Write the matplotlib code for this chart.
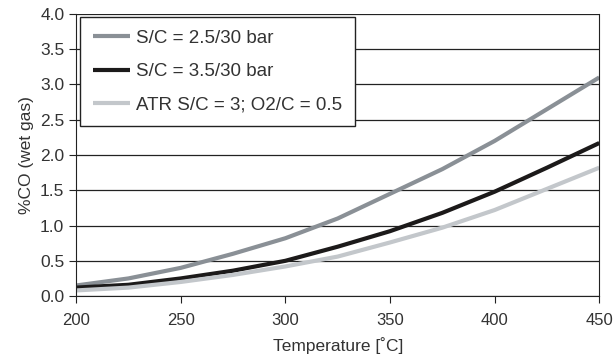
import numpy as np
import matplotlib.pyplot as plt

plt.rcParams['font.family'] = ['Liberation Sans', 'DejaVu Sans']

# temperature axis and %CO readings for each case
temp = [200, 225, 250, 275, 300, 325, 350, 375, 400, 425, 450]
sc25 = [0.15, 0.25, 0.40, 0.60, 0.82, 1.10, 1.45, 1.80, 2.20, 2.65, 3.10]
sc35 = [0.12, 0.16, 0.25, 0.36, 0.50, 0.70, 0.92, 1.18, 1.48, 1.82, 2.17]
atr = [0.08, 0.12, 0.20, 0.30, 0.42, 0.56, 0.76, 0.97, 1.22, 1.52, 1.82]
labels = ['S/C = 2.5/30 bar', 'S/C = 3.5/30 bar', 'ATR S/C = 3; O2/C = 0.5']
colors = ['#8a9096', '#1c1a1a', '#c3c7cb']

fig = plt.figure(figsize=(6.14, 3.58), dpi=100)
ax = fig.add_axes([0.124, 0.173, 0.852, 0.788])

for y, lab, c in zip([sc25, sc35, atr], labels, colors):
    ax.plot(temp, y, color=c, lw=3.0, label=lab, solid_capstyle='butt')

ax.set_xlim(200, 450)
ax.set_ylim(0, 4.0)
ax.set_xticks([200, 250, 300, 350, 400, 450])
ax.set_yticks(np.arange(0, 4.01, 0.5))
ax.set_yticklabels(['%.1f' % v for v in np.arange(0, 4.01, 0.5)])
ax.yaxis.grid(True, color='#222222', lw=0.9)
ax.set_axisbelow(True)
for s in ['left', 'bottom', 'right']:
    ax.spines[s].set_color('#222222')
ax.spines['top'].set_visible(False)
ax.tick_params(axis='both', direction='out', length=5, color='#222222',
               labelsize=12.5, labelcolor='#333333')
ax.tick_params(axis='x', pad=7, labelsize=12)

ax.set_xlabel('Temperature [\u02daC]', fontsize=12.5, color='#333333', labelpad=7)
ax.set_ylabel('%CO (wet gas)', fontsize=12.5, color='#333333', labelpad=4)

leg = ax.legend(loc='upper left', bbox_to_anchor=(0.008, 0.99), borderaxespad=0,
                fontsize=13.5, handlelength=1.95, frameon=True, fancybox=False,
                borderpad=0.7, labelspacing=0.85, handletextpad=0.3)
leg.get_frame().set_edgecolor('#222222')
leg.get_frame().set_linewidth(1.0)
leg.get_frame().set_alpha(1)
for t in leg.get_texts():
    t.set_color('#333333')

fig.savefig('out.png', dpi=100)
